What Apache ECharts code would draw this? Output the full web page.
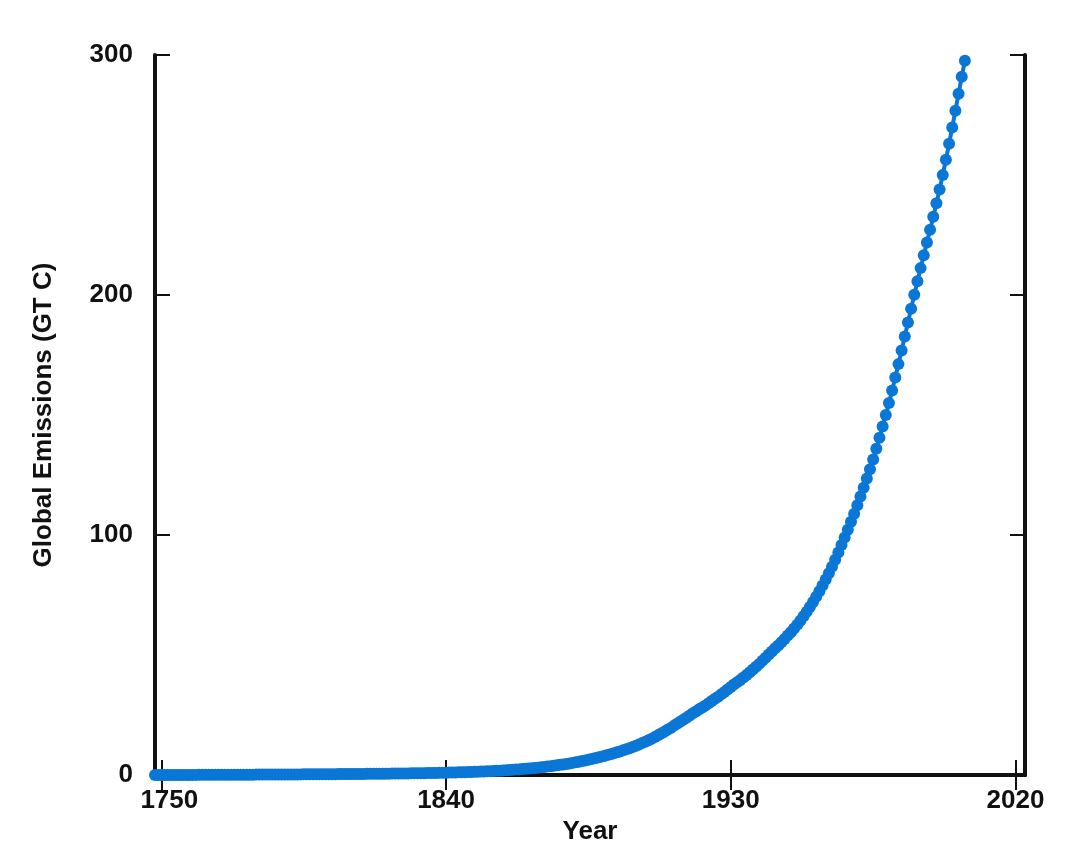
<!DOCTYPE html>
<html>
<head>
<meta charset="utf-8">
<script src="https://cdn.jsdelivr.net/npm/echarts@6/dist/echarts.min.js"></script>
<style>
  html, body { margin: 0; padding: 0; background: #ffffff; }
  #chart { width: 1079px; height: 861px; }
</style>
</head>
<body>
<div id="chart"></div>
<script>
// First year of the series; one value per year after that.
const firstYear = 1748;
// Cumulative global emissions (GT C), one value per year.
const cumulativeEmissions = [
  0, 0, 0, 0, 0.01, 0.01, 0.02, 0.02, 0.03, 0.03, 0.04, 0.04,
  0.05, 0.05, 0.06, 0.06, 0.07, 0.07, 0.08, 0.08, 0.09, 0.09,
  0.10, 0.10, 0.11, 0.11, 0.12, 0.13, 0.13, 0.14, 0.14, 0.15,
  0.16, 0.16, 0.17, 0.18, 0.18, 0.19, 0.20, 0.20, 0.21, 0.22,
  0.23, 0.23, 0.24, 0.25, 0.26, 0.27, 0.27, 0.28, 0.29, 0.30,
  0.31, 0.32, 0.33, 0.34, 0.35, 0.36, 0.37, 0.38, 0.39, 0.40,
  0.41, 0.42, 0.43, 0.45, 0.46, 0.47, 0.48, 0.50, 0.51, 0.52,
  0.54, 0.55, 0.57, 0.58, 0.60, 0.61, 0.63, 0.65, 0.67, 0.69,
  0.71, 0.73, 0.75, 0.77, 0.80, 0.82, 0.85, 0.88, 0.90, 0.93,
  0.96, 1.00, 1.03, 1.07, 1.10, 1.14, 1.18, 1.23, 1.27, 1.32,
  1.37, 1.42, 1.48, 1.54, 1.60, 1.67, 1.74, 1.81, 1.89, 1.97,
  2.06, 2.15, 2.24, 2.34, 2.45, 2.56, 2.68, 2.80, 2.93, 3.06,
  3.20, 3.35, 3.51, 3.68, 3.85, 4.03, 4.22, 4.41, 4.61, 4.82,
  5.05, 5.29, 5.54, 5.80, 6.07, 6.35, 6.64, 6.94, 7.26, 7.59,
  7.93, 8.29, 8.66, 9.04, 9.43, 9.84, 10.27, 10.72, 11.19, 11.68,
  12.20, 12.74, 13.30, 13.89, 14.50, 15.15, 15.84, 16.57, 17.29, 18.04,
  18.83, 19.63, 20.47, 21.36, 22.20, 23.02, 23.89, 24.80, 25.69, 26.49,
  27.38, 28.17, 29.00, 29.91, 30.81, 31.74, 32.64, 33.62, 34.60, 35.66,
  36.7, 37.7, 38.6, 39.6, 40.6, 41.7, 42.8, 44.0, 45.1, 46.3,
  47.6, 48.9, 50.2, 51.5, 52.8, 54.0, 55.3, 56.7, 58.1, 59.5,
  61.0, 62.6, 64.3, 66.1, 68.0, 70.0, 72.1, 74.3, 76.6, 79.0,
  81.5, 84.1, 86.8, 89.7, 92.7, 95.8, 99.0, 102.2, 105.5, 108.9,
  112.4, 116.0, 119.7, 123.5, 127.4, 131.5, 135.9, 140.5, 145.2, 150.0,
  155.0, 160.2, 165.6, 171.2, 176.9, 182.7, 188.5, 194.3, 200.1, 205.7,
  211.2, 216.6, 221.9, 227.2, 232.6, 238.2, 244.0, 250.0, 256.4, 263.0,
  269.8, 276.8, 283.9, 290.9, 297.6
];
// Axis tick labels
const xTicks = [1750, 1840, 1930, 2020];
const yTicks = [0, 100, 200, 300];

const seriesData = cumulativeEmissions.map((v, i) => [firstYear + i, v]);

const FONT = '"Liberation Sans", Arial, Helvetica, sans-serif';
const BLACK = '#111111';
const BLUE = '#0a76d6';
const FS = 26;

const chart = echarts.init(document.getElementById('chart'), null, { renderer: 'canvas' });

const lineCommon = { show: true, lineStyle: { color: BLACK, width: 4 } };
const tickCommon = { show: true, inside: true, length: 15, lineStyle: { color: BLACK, width: 2 } };
const labelText = { color: BLACK, fontFamily: FONT, fontWeight: 'bold', fontSize: FS };

chart.setOption({
  backgroundColor: '#ffffff',
  animation: false,
  grid: { left: 155, top: 55, right: 54, bottom: 86, containLabel: false },
  xAxis: [
    {
      type: 'value', position: 'bottom',
      min: 1748, max: 2023,
      axisLine: lineCommon,
      axisTick: Object.assign({}, tickCommon, { customValues: xTicks }),
      axisLabel: Object.assign({
        show: true, customValues: xTicks, margin: 13,
        formatter: function (v) { return v === xTicks[0] ? '{first|' + v + '}' : String(v); },
        rich: { first: Object.assign({ padding: [0, 0, 0, 16] }, labelText) }
      }, labelText),
      splitLine: { show: false },
      name: 'Year', nameLocation: 'middle', nameGap: 42,
      nameTextStyle: labelText
    },
    {
      type: 'value', position: 'top',
      min: 1748, max: 2023,
      axisLine: lineCommon,
      axisTick: Object.assign({}, tickCommon, { customValues: xTicks }),
      axisLabel: { show: false },
      splitLine: { show: false }
    }
  ],
  yAxis: [
    {
      type: 'value', position: 'left',
      min: 0, max: 300, interval: 100,
      axisLine: lineCommon,
      axisTick: Object.assign({}, tickCommon, { customValues: yTicks }),
      axisLabel: Object.assign({
        show: true, customValues: yTicks, margin: 22,
        formatter: function (v) { return String(v); }
      }, labelText),
      splitLine: { show: false },
      name: 'Global Emissions (GT C)', nameLocation: 'middle', nameGap: 98,
      nameTextStyle: labelText
    },
    {
      type: 'value', position: 'right',
      min: 0, max: 300, interval: 100,
      axisLine: lineCommon,
      axisTick: Object.assign({}, tickCommon, { customValues: yTicks }),
      axisLabel: { show: false },
      splitLine: { show: false }
    }
  ],
  series: [
    {
      type: 'line',
      xAxisIndex: 0, yAxisIndex: 0,
      data: seriesData,
      clip: false,
      symbol: 'circle',
      symbolSize: 12,
      showSymbol: true,
      showAllSymbol: true,
      lineStyle: { color: BLUE, width: 4 },
      itemStyle: { color: BLUE, borderWidth: 0 },
      z: 5
    }
  ]
});
</script>
</body>
</html>
